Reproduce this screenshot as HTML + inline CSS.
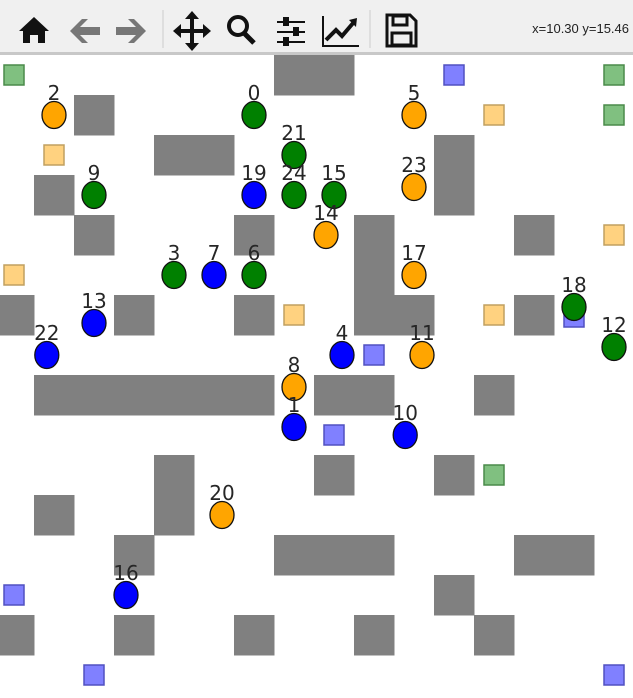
<!DOCTYPE html>
<html><head><meta charset="utf-8"><style>
html,body{margin:0;padding:0;background:#fff;width:633px;height:698px;overflow:hidden;font-family:"Liberation Sans","DejaVu Sans",sans-serif}
#tb{position:absolute;left:0;top:0;width:633px;height:52px;background:#f0f0f0;border-bottom:3px solid #c8c8c8}
#coord{position:absolute;right:4px;top:21px;font-size:13px;color:#222}
svg{position:absolute;left:0;top:0}
</style></head><body>
<div id="tb">
<svg width="633" height="52">
<g><polygon points="19,31 34,17 49,31 45,31 45,43 38,43 38,35 30,35 30,43 23,43 23,31" fill="#111"/></g>
<g><polygon points="70,31 82,19 88,19 80,27 100,27 100,35 80,35 88,43 82,43" fill="#777"/></g>
<g><polygon points="146,31 134,19 128,19 136,27 116,27 116,35 136,35 128,43 134,43" fill="#777"/></g>
<line x1="163" y1="10" x2="163" y2="48" stroke="#ccc"/>
<g fill="#111"><rect x="190" y="16" width="4" height="32"/><rect x="176" y="29" width="32" height="4"/><polygon points="192,11 185,19 199,19"/><polygon points="192,51 185,43 199,43"/><polygon points="173,31 181,24 181,38"/><polygon points="211,31 203,24 203,38"/></g>
<g><circle cx="238" cy="26" r="9" fill="none" stroke="#111" stroke-width="4"/><line x1="244" y1="33" x2="254" y2="43" stroke="#111" stroke-width="5"/></g>
<g fill="#111"><rect x="277" y="21" width="28" height="2"/><rect x="277" y="31" width="28" height="2"/><rect x="277" y="41" width="28" height="2"/><rect x="283" y="17" width="6" height="9"/><rect x="293" y="27" width="6" height="9"/><rect x="283" y="37" width="6" height="9"/></g>
<g><polyline points="323,16 323,46 359,46" fill="none" stroke="#111" stroke-width="2"/><polyline points="326,40 336,30 342,36 354,22" fill="none" stroke="#111" stroke-width="4"/><polygon points="357,18 349,20 356,27" fill="#111"/></g>
<line x1="370" y1="10" x2="370" y2="48" stroke="#ccc"/>
<g><path d="M387 15 H410 L416 21 V46 H387 Z" fill="none" stroke="#111" stroke-width="3"/><rect x="393" y="16" width="14" height="9" fill="none" stroke="#111" stroke-width="3"/><rect x="392" y="33" width="19" height="12" fill="none" stroke="#111" stroke-width="3"/></g>
</svg>
<div id="coord">x=10.30 y=15.46</div>
</div>
<svg id="plot" width="633" height="698" style="top:0"></svg>
<script>
// obstacle cells [col,row]
const obsCols=[7,8,2,4,5,11,1,11,2,6,9,13,9,0,3,6,9,10,13,1,2,3,4,5,6,8,9,12,4,8,11,1,4,3,7,8,9,13,14,11,0,3,6,9,12];
const obsRows=[0,0,1,2,2,2,3,3,4,4,4,4,5,6,6,6,6,6,6,8,8,8,8,8,8,8,8,8,10,10,10,11,11,12,12,12,12,12,12,13,14,14,14,14,14];
// goal squares
const sqCols=[0,11,15,12,15,1,15,0,7,12,14,9,8,12,0,2,15];
const sqRows=[0,0,0,1,1,2,4,5,6,6,6.05,7,9,10,13,15,15];
const sqColors=['g','b','g','o','g','o','o','o','o','o','b','b','b','g','b','b','b'];
// agents
const agLabels=['0','2','5','21','9','19','24','15','23','14','3','7','6','17','13','18','22','4','11','12','8','1','10','20','16'];
const agCols=[6,1,10,7,2,6,7,8,10,7.8,4,5,6,10,2,14,0.82,8.2,10.2,15,7,7,9.78,5.2,2.8];
const agRows=[1,1,1,2,3,3,3,3,2.8,4,5,5,5,5,6.2,5.8,7,7,7,6.8,7.8,8.8,9,11,13];
const agColors=['g','o','o','g','g','b','g','g','o','o','g','b','g','o','b','g','b','b','o','g','o','b','b','o','b'];

const X0=-6,Y0=55,C=40;
const px=c=>X0+C*(c+0.5), py=r=>Y0+C*(r+0.5);
const svg=document.getElementById('plot');
const NS='http://www.w3.org/2000/svg';
function mk(t,a){const e=document.createElementNS(NS,t);for(const k in a)e.setAttribute(k,a[k]);svg.appendChild(e);return e;}
obsCols.forEach((c,i)=>{
 const e=mk('rect',{x:X0+C*c,y:Y0+C*obsRows[i],width:C+0.5,height:C+0.5,fill:'#808080'});
 
 
});
const sqFill={g:'#80c080',b:'#8080ff',o:'#ffd280'},sqEdge={g:'#4a8a4a',b:'#5050c0',o:'#c0a060'};
sqCols.forEach((c,i)=>{
 const k=sqColors[i];
 const e=mk('rect',{x:px(c)-10,y:py(sqRows[i])-10,width:20,height:20,fill:sqFill[k],stroke:sqEdge[k],'stroke-width':1.5});
 
 
});
const agFill={g:'#008000',b:'#0000ff',o:'#ffa500'};
agCols.forEach((c,i)=>{
 const x=px(c),y=py(agRows[i]);
 const e=mk('ellipse',{cx:x,cy:y,rx:12,ry:13.5,fill:agFill[agColors[i]],stroke:'#111','stroke-width':1.3});
 
 
 const t=mk('text',{x:x,y:y-15,'text-anchor':'middle','font-size':20,fill:'#262626','font-family':'DejaVu Sans, sans-serif'});
 t.textContent=agLabels[i];
 
 
});
</script>
</body></html>
